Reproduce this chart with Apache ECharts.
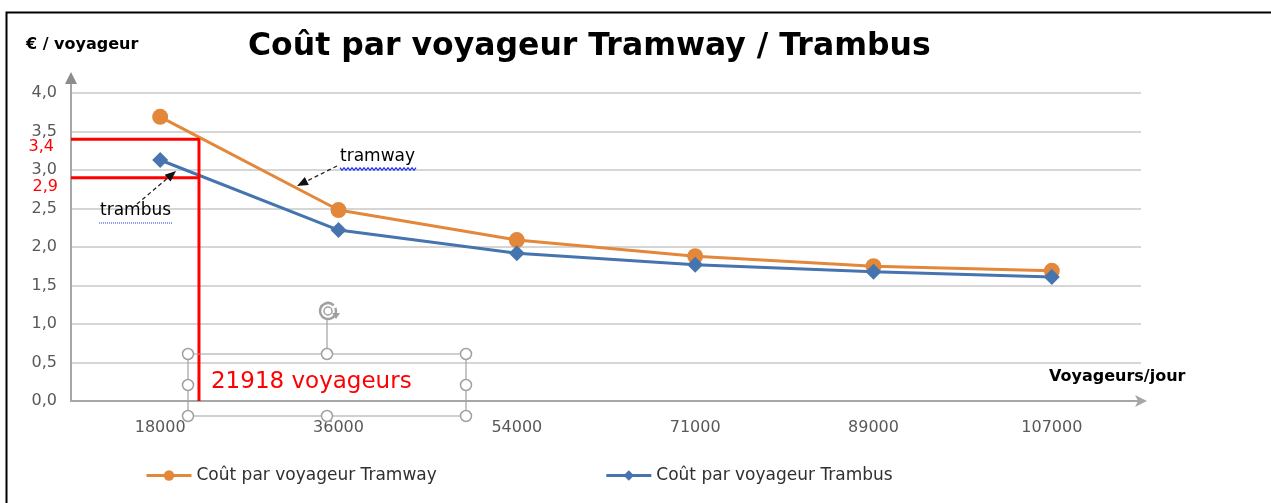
<!DOCTYPE html>
<html><head><meta charset="utf-8">
<script src="https://cdn.jsdelivr.net/npm/echarts@6/dist/echarts.min.js"></script>
<style>html,body{margin:0;padding:0;background:#fff}#c{width:1271px;height:503px}</style>
</head><body><div id="c"></div>
<script>
// ---- data ----
const categories = ['18000', '36000', '54000', '71000', '89000', '107000'];
const tramwayCost = [3.69, 2.48, 2.09, 1.88, 1.75, 1.69];
const trambusCost = [3.13, 2.22, 1.92, 1.77, 1.68, 1.61];
const thresholdVoyageurs = 21918;
const thresholdTramway = 3.4;
const thresholdTrambus = 2.9;
const thresholdLabels = ['3,4', '2,9'];
const seriesNames = ['Coût par voyageur Tramway', 'Coût par voyageur Trambus'];

const FONT = '"DejaVu Sans", sans-serif';
const ORANGE = '#E3873A';
const BLUE = '#4674AE';
const GRAY = '#A6A6A6';

// position of threshold in category-index space (linear between 18000 and 36000)
const catNum = categories.map(Number);
const tIdx = (thresholdVoyageurs - catNum[0]) / (catNum[1] - catNum[0]);

const chart = echarts.init(document.getElementById('c'), null, {renderer: 'canvas'});

function arrowHead(x1, y1, x2, y2, len, half, color) {
  const dx = x2 - x1, dy = y2 - y1, L = Math.hypot(dx, dy);
  const ux = dx / L, uy = dy / L;
  const bx = x2 - ux * len, by = y2 - uy * len;
  return {type: 'polygon', silent: true, z: 100,
    shape: {points: [[x2, y2], [bx - uy * half, by + ux * half], [bx + uy * half, by - ux * half]]},
    style: {fill: color}};
}
function dashedArrow(x1, y1, x2, y2) {
  return [
    {type: 'line', silent: true, z: 100, shape: {x1, y1, x2: x2 - (x2 - x1) * 0.12, y2: y2 - (y2 - y1) * 0.12},
      style: {stroke: '#222', lineWidth: 1.3, lineDash: [4, 3]}},
    arrowHead(x1, y1, x2, y2, 11, 4.5, '#111')
  ];
}
function wavy(x1, x2, y) {
  const pts = [];
  let up = true;
  for (let x = x1; x <= x2; x += 2) { pts.push([x, y + (up ? -1.3 : 1.3)]); up = !up; }
  return {type: 'polyline', silent: true, z: 100, shape: {points: pts}, style: {stroke: '#2233EE', lineWidth: 1.3, fill: null}};
}

const option = {
  animation: false,
  backgroundColor: '#fff',
  textStyle: {fontFamily: FONT},
  title: {
    text: 'Coût par voyageur Tramway / Trambus',
    left: 243, top: 26,
    textStyle: {fontFamily: FONT, fontWeight: 'bold', fontSize: 31.5, color: '#000'}
  },
  legend: {
    data: seriesNames,
    left: 140, top: 462,
    itemWidth: 45, itemHeight: 13, itemGap: 168,
    lineStyle: {width: 3},
    textStyle: {fontFamily: FONT, fontSize: 17, color: '#303030'}
  },
  grid: {left: 71, right: 130, top: 93, bottom: 102},
  xAxis: [
    {type: 'category', data: categories, boundaryGap: true,
      axisLine: {show: true, onZero: false, lineStyle: {color: GRAY, width: 2}, symbol: ['none', 'arrow'], symbolSize: [9, 12], symbolOffset: [0, 6]},
      axisTick: {show: false},
      axisLabel: {color: '#595959', fontSize: 16, fontFamily: FONT, margin: 19},
      splitLine: {show: false}},
    {type: 'value', min: -0.5, max: categories.length - 0.5, show: false}
  ],
  yAxis: {type: 'value', min: 0, max: 4, interval: 0.5,
    axisLine: {show: true, onZero: false, lineStyle: {color: GRAY, width: 2}},
    axisTick: {show: false},
    axisLabel: {color: '#595959', fontSize: 16, fontFamily: FONT, margin: 14,
      formatter: v => v.toFixed(1).replace('.', ',')},
    splitLine: {show: true, lineStyle: {color: '#C8C8C8', width: 1.5}}},
  series: [
    {name: seriesNames[0], type: 'line', data: tramwayCost, symbol: 'circle', symbolSize: 16,
      color: ORANGE, lineStyle: {width: 3, color: ORANGE}, itemStyle: {color: ORANGE}, z: 3},
    {name: seriesNames[1], type: 'line', data: trambusCost, symbol: 'diamond', symbolSize: 16,
      color: BLUE, lineStyle: {width: 3, color: BLUE}, itemStyle: {color: BLUE}, z: 4},
    {name: 'seuil-tram', type: 'line', xAxisIndex: 1, symbol: 'none', silent: true, z: 6,
      data: [[-0.5, thresholdTramway], [tIdx, thresholdTramway], [tIdx, 0]],
      lineStyle: {color: '#FF0000', width: 3}},
    {name: 'seuil-bus', type: 'line', xAxisIndex: 1, symbol: 'none', silent: true, z: 6,
      data: [[-0.5, thresholdTrambus], [tIdx, thresholdTrambus]],
      lineStyle: {color: '#FF0000', width: 3}}
  ]
};
chart.setOption(option);

// place decorations relative to the axes
const pAxisTop = chart.convertToPixel({xAxisIndex: 1, yAxisIndex: 0}, [-0.5, 4]);
const pOrigin = chart.convertToPixel({xAxisIndex: 1, yAxisIndex: 0}, [-0.5, 0]);
const pT = chart.convertToPixel({xAxisIndex: 1, yAxisIndex: 0}, [tIdx, thresholdTramway]);
const pB = chart.convertToPixel({xAxisIndex: 1, yAxisIndex: 0}, [tIdx, thresholdTrambus]);
const ax = pOrigin[0];

const g = [];
// outer frame
g.push({type: 'rect', silent: true, shape: {x: 6.5, y: 12.5, width: 1300, height: 520}, style: {fill: null, stroke: '#000', lineWidth: 2}});
// y axis extension with arrow
g.push({type: 'line', silent: true, z: 50, shape: {x1: ax, y1: pAxisTop[1], x2: ax, y2: pAxisTop[1] - 12}, style: {stroke: GRAY, lineWidth: 2}});
g.push({type: 'polygon', silent: true, z: 50, shape: {points: [[ax, pAxisTop[1] - 21], [ax - 6, pAxisTop[1] - 9], [ax + 6, pAxisTop[1] - 9]]}, style: {fill: '#8C8C8C'}});
// axis names
g.push({type: 'text', silent: true, left: 26, top: 37, style: {text: '€ / voyageur', font: 'bold 16px ' + FONT, fill: '#000'}});
g.push({type: 'text', silent: true, left: 1049, top: 369, style: {text: 'Voyageurs/jour', font: 'bold 16px ' + FONT, fill: '#000'}});
// red threshold labels
g.push({type: 'text', silent: true, z: 60, x: ax - 17, y: pT[1] + 8, style: {text: thresholdLabels[0], font: '16px ' + FONT, fill: '#FF0000', align: 'right', verticalAlign: 'middle'}});
g.push({type: 'text', silent: true, z: 60, x: ax - 13, y: pB[1] + 9, style: {text: thresholdLabels[1], font: '16px ' + FONT, fill: '#FF0000', align: 'right', verticalAlign: 'middle'}});
// selection box (text box handles)
const bx1 = 188, bx2 = 466, by1 = 354, by2 = 416, bxm = 327, bym = 385;
g.push({type: 'rect', silent: true, z: 70, shape: {x: bx1, y: by1, width: bx2 - bx1, height: by2 - by1}, style: {fill: null, stroke: '#A0A0A0', lineWidth: 1.2}});
g.push({type: 'line', silent: true, z: 70, shape: {x1: bxm, y1: 320, x2: bxm, y2: by1}, style: {stroke: '#A0A0A0', lineWidth: 1.2}});
g.push({type: 'arc', silent: true, z: 70, shape: {cx: bxm + 1, cy: 311, r: 8, startAngle: -0.4, endAngle: Math.PI * 1.75}, style: {stroke: '#A0A0A0', lineWidth: 2.5, fill: null}});
g.push({type: 'circle', silent: true, z: 70, shape: {cx: bxm + 1, cy: 311, r: 4}, style: {stroke: '#A0A0A0', lineWidth: 1.5, fill: null}});
g.push({type: 'polygon', silent: true, z: 70, shape: {points: [[bxm + 5, 313], [bxm + 13, 313], [bxm + 9, 319]]}, style: {fill: '#A0A0A0'}});
[[bx1, by1], [bxm, by1], [bx2, by1], [bx1, bym], [bx2, bym], [bx1, by2], [bxm, by2], [bx2, by2]].forEach(p => {
  g.push({type: 'circle', silent: true, z: 71, shape: {cx: p[0], cy: p[1], r: 5.5}, style: {fill: '#fff', stroke: '#A0A0A0', lineWidth: 1.5}});
});
// threshold text
g.push({type: 'text', silent: true, z: 72, left: pT[0] + 12, top: 371, style: {text: thresholdVoyageurs + ' voyageurs', font: '23px ' + FONT, fill: '#FF0000'}});
// annotations
g.push({type: 'text', silent: true, z: 80, left: 340, top: 148, style: {text: 'tramway', font: '17px ' + FONT, fill: '#000'}});
g.push(wavy(340, 416, 169));
g.push(...dashedArrow(337, 166, 297, 186));
g.push({type: 'text', silent: true, z: 80, left: 100, top: 202, style: {text: 'trambus', font: '17px ' + FONT, fill: '#000'}});
g.push({type: 'line', silent: true, z: 80, shape: {x1: 99, y1: 223, x2: 173, y2: 223}, style: {stroke: '#2233EE', lineWidth: 1, lineDash: [1, 1]}});
g.push(...dashedArrow(137, 204, 176, 171));

chart.setOption({graphic: g});
</script></body></html>
